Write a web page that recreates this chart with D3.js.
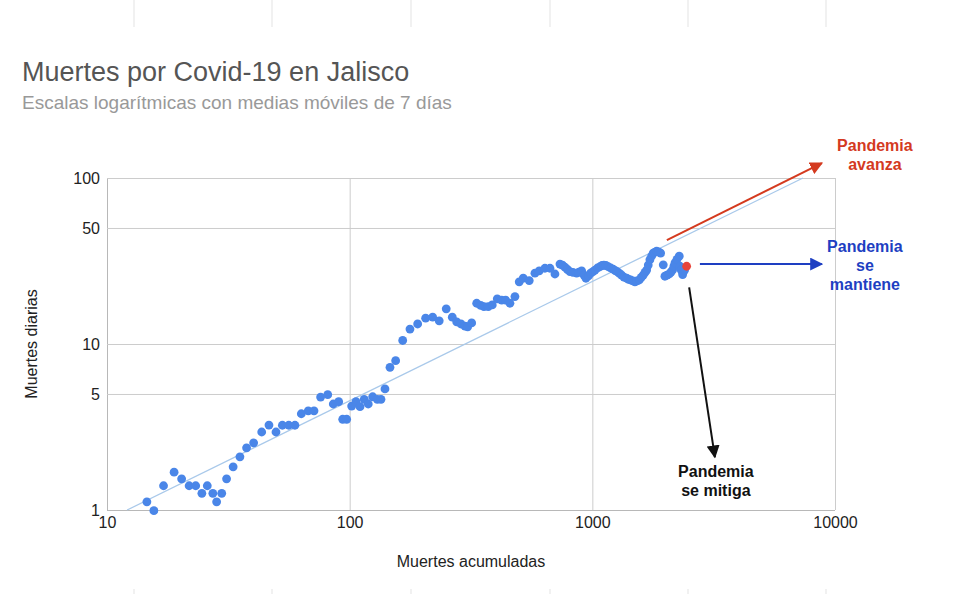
<!DOCTYPE html>
<html>
<head>
<meta charset="utf-8">
<script src="https://cdn.jsdelivr.net/npm/d3@7"></script>
<style>
    body { margin: 0; background: #fff; }
    svg { display: block; font-family: "Liberation Sans", Arial, sans-serif; }
</style>
</head>
<body>
<svg></svg>
<script>
// muertes acumuladas (eje x) y muertes diarias, media movil 7 dias (eje y)
const cumulative = [
    14.6, 15.6, 17.1, 18.9, 20.3, 21.8, 23.2, 24.6, 25.9, 27.3,
    28.3, 29.7, 31.1, 33.1, 35.3, 37.6, 40.2, 43.4, 46.5, 49.7,
    52.8, 56.1, 59.5, 63.2, 67.5, 71.3, 75.9, 81.2, 85.6, 90.1,
    93.6, 97.2, 101.9, 106.2, 110.3, 114.8, 119.3, 124.4, 130.0, 134.6,
    139.8, 146.6, 154.7, 165.4, 177.2, 190.6, 205.6, 219.8, 233.9, 250.0,
    264.8, 276.0, 287.5, 298.7, 306.4, 318.2, 333.7, 346.6, 357.6, 372.5,
    386.9, 405.7, 423.0, 439.3, 457.6, 479.8, 499.7, 519.1, 549.5, 580.0,
    604.2, 637.8, 669.0, 701.4, 735.5, 753, 771.3, 790, 808.7, 832,
    861.7, 881, 903.5, 924, 941.1, 964, 984, 1006, 1025, 1050,
    1075, 1096, 1116, 1138, 1163, 1190, 1219, 1243, 1266, 1293,
    1320, 1350, 1385, 1411, 1438, 1470, 1498, 1527, 1561, 1591,
    1621, 1648, 1674, 1700, 1727, 1756, 1782, 1811, 1841, 1876,
    1912, 1960, 1991, 2030, 2075, 2108, 2143, 2169, 2190, 2232,
    2281, 2296, 2324, 2356, 2400, 2447
];
const daily = [
    1.12, 0.99, 1.40, 1.69, 1.54, 1.40, 1.40, 1.26, 1.40, 1.26,
    1.12, 1.26, 1.54, 1.82, 2.09, 2.37, 2.54, 2.95, 3.25, 2.95,
    3.24, 3.24, 3.24, 3.80, 3.96, 3.96, 4.79, 4.95, 4.35, 4.49,
    3.52, 3.52, 4.23, 4.49, 4.19, 4.64, 4.35, 4.81, 4.64, 4.64,
    5.36, 7.24, 7.93, 10.5, 12.3, 13.2, 14.3, 14.5, 13.8, 16.3,
    14.5, 13.6, 13.2, 12.8, 12.7, 13.4, 17.6, 17.1, 16.8, 16.8,
    17.2, 18.7, 18.4, 18.4, 17.6, 19.3, 23.7, 24.9, 24.1, 26.7,
    27.6, 28.6, 28.6, 26.4, 30.3, 29.9, 29.0, 28.1, 27.3, 27.0,
    26.7, 27.1, 27.6, 26.0, 24.9, 25.7, 26.7, 27.3, 27.9, 28.7,
    29.2, 29.7, 29.9, 29.7, 29.2, 28.7, 28.2, 27.7, 27.3, 26.6,
    26.0, 25.3, 24.9, 24.5, 24.3, 24.0, 23.7, 24.0, 24.3, 25.2,
    26.0, 27.0, 27.9, 29.9, 32.2, 33.9, 35.3, 35.8, 36.2, 35.9,
    35.3, 30.0, 25.6, 26.0, 26.4, 27.1, 28.0, 29.5, 30.8, 32.3,
    33.8, 29.4, 27.9, 26.2, 27.9, 29.4
];

const xTicks = [10, 100, 1000, 10000];
const yTicks = [1, 5, 10, 50, 100];

// linea de tendencia (ley de potencia)
const trendCumulative = [12.1, 7380];
const trendDaily = [1, 100];

// flechas: inicio y punta en unidades de datos
const arrowNames = ["avanza", "mantiene", "mitiga"];
const arrowFromX = [2028, 2775, 2506];
const arrowFromY = [42.3, 30.3, 21.96];
const arrowToX = [8830, 8830, 3199];
const arrowToY = [123, 30.3, 2.08];
const arrowLabels = [["Pandemia", "avanza"], ["Pandemia", "se", "mantiene"], ["Pandemia", "se mitiga"]];

const title = "Muertes por Covid-19 en Jalisco";
const subtitle = "Escalas logarítmicas con medias móviles de 7 días";
const xTitle = "Muertes acumuladas";
const yTitle = "Muertes diarias";

const width = 960, height = 594;
const plot = { left: 107, right: 835, top: 178, bottom: 510 };

const arrowColors = { avanza: "#d43a1f", mantiene: "#1e3fc2", mitiga: "#111111" };
// desplazamiento de los textos respecto a la punta de cada flecha
const labelOffset = { avanza: [53, -12], mantiene: [43, -12], mitiga: [1, 20] };

let svg = d3.select("svg").attr("width", width).attr("height", height);

let x = d3.scaleLog().domain([10, 10000]).range([plot.left, plot.right]);
let y = d3.scaleLog().domain([1, 100]).range([plot.bottom, plot.top]);

// lineas de columnas de la hoja de calculo (fondo)
let sheetCols = [134, 272, 411, 550, 688, 826];
svg.append("g")
    .selectAll("line")
    .data(sheetCols)
    .join("line")
    .attr("x1", d => d).attr("x2", d => d)
    .attr("y1", 0).attr("y2", 27)
    .style("stroke", "#e3e3e3");
svg.append("g")
    .selectAll("line")
    .data(sheetCols)
    .join("line")
    .attr("x1", d => d).attr("x2", d => d)
    .attr("y1", 589).attr("y2", 594)
    .style("stroke", "#e3e3e3");

svg.append("text")
    .attr("x", 22).attr("y", 81)
    .style("font-size", "27px")
    .style("fill", "#555")
    .text(title);
svg.append("text")
    .attr("x", 22).attr("y", 109)
    .style("font-size", "19px")
    .style("fill", "#999")
    .text(subtitle);

let xAxis = svg.append("g")
    .attr("transform", `translate(0,${plot.bottom})`)
    .call(d3.axisBottom(x).tickValues(xTicks).tickFormat(d3.format("d"))
        .tickSize(-(plot.bottom - plot.top)).tickPadding(7));
let yAxis = svg.append("g")
    .attr("transform", `translate(${plot.left},0)`)
    .call(d3.axisLeft(y).tickValues(yTicks).tickFormat(d3.format("d"))
        .tickSize(-(plot.right - plot.left)).tickPadding(7));

[xAxis, yAxis].forEach(a => {
    a.select(".domain").remove();
    a.selectAll(".tick line").style("stroke", "#cccccc");
    a.selectAll(".tick text")
        .style("font-family", "'Liberation Sans', Arial, sans-serif")
        .style("font-size", "16px")
        .style("fill", "#222");
});
xAxis.selectAll(".tick line").filter(d => d === 10).style("stroke", "#b8b8b8");
yAxis.selectAll(".tick line").filter(d => d === 1).style("stroke", "#b8b8b8");

svg.append("text")
    .attr("x", (plot.left + plot.right) / 2).attr("y", 567)
    .attr("text-anchor", "middle")
    .style("font-size", "16px")
    .style("fill", "#222")
    .text(xTitle);
svg.append("text")
    .attr("transform", `translate(37,${(plot.top + plot.bottom) / 2}) rotate(-90)`)
    .attr("text-anchor", "middle")
    .style("font-size", "16px")
    .style("fill", "#222")
    .text(yTitle);

// tendencia
svg.append("line")
    .attr("x1", x(trendCumulative[0])).attr("y1", y(trendDaily[0]))
    .attr("x2", x(trendCumulative[1])).attr("y2", y(trendDaily[1]))
    .style("stroke", "#a9c9ea")
    .style("stroke-width", 1.3);

// puntos
let points = cumulative.map((c, i) => ({ c: c, d: daily[i], last: i === cumulative.length - 1 }));
svg.append("g")
    .selectAll("circle")
    .data(points)
    .join("circle")
    .attr("cx", p => x(p.c))
    .attr("cy", p => y(p.d))
    .attr("r", 4.4)
    .style("fill", p => p.last ? "#e8443a" : "#4a86e8");

// flechas
let defs = svg.append("defs");
arrowNames.forEach(name => {
    defs.append("marker")
        .attr("id", "head-" + name)
        .attr("viewBox", "0 0 10 10")
        .attr("refX", 9).attr("refY", 5)
        .attr("markerWidth", 6.5).attr("markerHeight", 6.5)
        .attr("markerUnits", "strokeWidth")
        .attr("orient", "auto")
        .append("path")
        .attr("d", "M 0 0 L 10 5 L 0 10 Z")
        .style("fill", arrowColors[name]);
});

arrowNames.forEach((name, i) => {
    let tx = x(arrowToX[i]), ty = y(arrowToY[i]);
    svg.append("line")
        .attr("x1", x(arrowFromX[i])).attr("y1", y(arrowFromY[i]))
        .attr("x2", tx).attr("y2", ty)
        .style("stroke", arrowColors[name])
        .style("stroke-width", 2)
        .attr("marker-end", `url(#head-${name})`);

    let [ox, oy] = labelOffset[name];
    svg.append("text")
        .attr("x", tx + ox).attr("y", ty + oy)
        .attr("text-anchor", "middle")
        .style("font-size", "16px")
        .style("font-weight", "bold")
        .style("fill", arrowColors[name])
        .selectAll("tspan")
        .data(arrowLabels[i])
        .join("tspan")
        .attr("x", tx + ox)
        .attr("dy", (d, j) => j === 0 ? 0 : 19)
        .text(d => d);
});
</script>
</body>
</html>
